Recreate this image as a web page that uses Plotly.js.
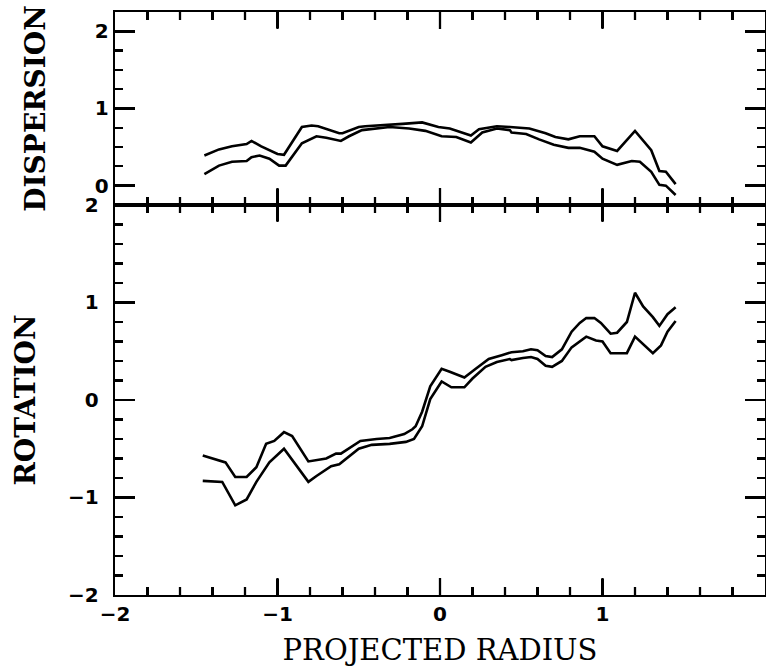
<!DOCTYPE html>
<html>
<head>
<meta charset="utf-8">
<script src="https://cdn.plot.ly/plotly-3.0.1.min.js"></script>
<style>html,body{margin:0;padding:0;background:#fff;}#chart{width:766px;height:672px;}</style>
</head>
<body>
<div id="chart"></div>
<script>
// Dispersion panel (top)
var dispUpperX = [-1.45,-1.36,-1.28,-1.19,-1.16,-1.10,-1.00,-0.96,-0.85,-0.79,-0.75,-0.62,-0.60,-0.50,-0.46,-0.36,-0.23,-0.11,-0.01,0.06,0.19,0.24,0.35,0.43,0.55,0.65,0.71,0.79,0.86,0.95,1.00,1.09,1.20,1.30,1.35,1.39,1.45];
var dispUpperY = [0.39,0.47,0.51,0.54,0.58,0.51,0.41,0.40,0.76,0.78,0.77,0.68,0.68,0.76,0.77,0.78,0.80,0.82,0.76,0.74,0.65,0.73,0.77,0.76,0.74,0.68,0.63,0.60,0.64,0.64,0.51,0.45,0.71,0.46,0.19,0.18,0.02];
var dispLowerX = [-1.45,-1.36,-1.28,-1.19,-1.16,-1.11,-1.05,-0.99,-0.95,-0.85,-0.76,-0.70,-0.61,-0.56,-0.48,-0.31,-0.19,-0.09,0.01,0.10,0.19,0.26,0.35,0.43,0.44,0.53,0.61,0.70,0.79,0.86,0.95,1.00,1.09,1.18,1.23,1.30,1.35,1.39,1.45];
var dispLowerY = [0.15,0.26,0.31,0.32,0.37,0.39,0.35,0.26,0.26,0.55,0.64,0.62,0.58,0.64,0.72,0.76,0.74,0.71,0.64,0.63,0.56,0.69,0.74,0.72,0.69,0.67,0.60,0.53,0.49,0.49,0.44,0.35,0.27,0.32,0.31,0.18,0.01,0.00,-0.12];

// Rotation panel (bottom)
var rotUpperX = [-1.46,-1.32,-1.26,-1.19,-1.13,-1.07,-1.02,-0.96,-0.91,-0.81,-0.70,-0.64,-0.61,-0.49,-0.39,-0.31,-0.22,-0.17,-0.15,-0.11,-0.06,0.01,0.06,0.15,0.22,0.30,0.38,0.44,0.51,0.56,0.60,0.65,0.69,0.75,0.81,0.86,0.90,0.95,0.99,1.05,1.09,1.15,1.20,1.25,1.31,1.35,1.40,1.45];
var rotUpperY = [-0.57,-0.64,-0.79,-0.79,-0.69,-0.45,-0.42,-0.33,-0.37,-0.63,-0.60,-0.55,-0.55,-0.42,-0.40,-0.39,-0.35,-0.30,-0.27,-0.12,0.14,0.32,0.29,0.23,0.32,0.42,0.46,0.49,0.50,0.52,0.51,0.45,0.44,0.52,0.70,0.79,0.84,0.84,0.79,0.68,0.69,0.80,1.10,0.96,0.85,0.76,0.88,0.95];
var rotLowerX = [-1.46,-1.34,-1.26,-1.19,-1.13,-1.05,-0.96,-0.81,-0.76,-0.67,-0.62,-0.50,-0.42,-0.31,-0.21,-0.16,-0.11,-0.06,0.01,0.07,0.15,0.20,0.28,0.35,0.43,0.44,0.51,0.56,0.60,0.65,0.69,0.75,0.81,0.86,0.90,0.96,1.00,1.05,1.15,1.20,1.25,1.31,1.36,1.40,1.45];
var rotLowerY = [-0.83,-0.84,-1.08,-1.02,-0.84,-0.64,-0.50,-0.84,-0.78,-0.68,-0.66,-0.50,-0.46,-0.45,-0.43,-0.40,-0.27,0.01,0.19,0.13,0.13,0.22,0.34,0.39,0.42,0.41,0.43,0.44,0.42,0.35,0.34,0.40,0.54,0.60,0.65,0.61,0.60,0.48,0.48,0.65,0.57,0.48,0.56,0.70,0.81];

// Tick values / labels
var xTickVals = [-2,-1,0,1,2];
var xTickText = ['\u22122','\u22121','0','1','2'];
var xMinorVals = [-1.8,-1.6,-1.4,-1.2,-0.8,-0.6,-0.4,-0.2,0.2,0.4,0.6,0.8,1.2,1.4,1.6,1.8];

var traces = [
  {x:rotUpperX, y:rotUpperY, mode:'lines', line:{color:'#000', width:2.6}},
  {x:rotLowerX, y:rotLowerY, mode:'lines', line:{color:'#000', width:2.6}},
  {x:dispUpperX, y:dispUpperY, xaxis:'x2', yaxis:'y2', mode:'lines', line:{color:'#000', width:2.6}},
  {x:dispLowerX, y:dispLowerY, xaxis:'x2', yaxis:'y2', mode:'lines', line:{color:'#000', width:2.6}}
];

var W = 766, H = 672, M = {l:115, r:1, t:12, b:77};
var SPLIT = 0.669;
var rotRange = [-2, 2];
var dispRange = [-0.25, 2.25];

// x-axis tick marks along the three horizontal axis lines, placed by the x scale
var plotH = H - M.t - M.b;
var rotPerPx = (rotRange[1] - rotRange[0]) / (plotH * SPLIT);
var dispPerPx = (dispRange[1] - dispRange[0]) / (plotH * (1 - SPLIT));
function tickShapes(){
  var shapes = [];
  function add(v, len){
    var st = {color:'#000', width:2.3};
    shapes.push({type:'line', xref:'x', yref:'y', x0:v, x1:v, y0:rotRange[0], y1:rotRange[0] + len*rotPerPx, line:st});
    shapes.push({type:'line', xref:'x', yref:'y', x0:v, x1:v, y0:rotRange[1], y1:rotRange[1] - len*rotPerPx, line:st});
    shapes.push({type:'line', xref:'x2', yref:'y2', x0:v, x1:v, y0:dispRange[0], y1:dispRange[0] + len*dispPerPx, line:st});
    shapes.push({type:'line', xref:'x2', yref:'y2', x0:v, x1:v, y0:dispRange[1], y1:dispRange[1] - len*dispPerPx, line:st});
  }
  xTickVals.forEach(function(v){ if (v > -2 && v < 2) add(v, 17); });
  xMinorVals.forEach(function(v){ add(v, 8); });
  return shapes;
}

var tickFont = {family:'DejaVu Sans', size:20, color:'#000', weight:'bold'};
var yTitleFont = {family:'DejaVu Serif', size:28, color:'#000', weight:'bold'};
var xTitleFont = {family:'DejaVu Serif', size:29, color:'#000'};

var layout = {
  width:W, height:H,
  margin:M,
  showlegend:false,
  shapes: tickShapes(),
  xaxis: {
    anchor:'y', domain:[0,1], range:[-2,2],
    showline:true, linecolor:'#000', linewidth:2.4, mirror:'allticks',
    ticks:'inside', ticklen:16, tickwidth:2.4, tickcolor:'#000',
    showgrid:false, zeroline:false, tickfont:tickFont,
    tickmode:'array', tickvals:xTickVals, ticktext:xTickText,
    minor:{dtick:0.2, ticks:'inside', ticklen:8, tickwidth:2.2, tickcolor:'#000'},
    title:{text:'PROJECTED RADIUS', font:xTitleFont, standoff:14}
  },
  yaxis: {
    anchor:'x', domain:[0,SPLIT], range:rotRange,
    showline:true, linecolor:'#000', linewidth:2.4, mirror:'allticks',
    ticks:'inside', ticklen:20, tickwidth:2.4, tickcolor:'#000',
    showgrid:false, zeroline:false, tickfont:tickFont, ticklabelstandoff:10,
    dtick:1, tick0:0,
    minor:{dtick:0.2, ticks:'inside', ticklen:8, tickwidth:2.2, tickcolor:'#000'},
    title:{text:'ROTATION', font:yTitleFont, standoff:24}
  },
  xaxis2: {
    anchor:'y2', domain:[0,1], range:[-2,2],
    showline:true, linecolor:'#000', linewidth:2.4, mirror:'allticks',
    ticks:'inside', ticklen:16, tickwidth:2.4, tickcolor:'#000',
    showgrid:false, zeroline:false, showticklabels:false, dtick:1, tick0:0,
    minor:{dtick:0.2, ticks:'inside', ticklen:8, tickwidth:2.2, tickcolor:'#000'}
  },
  yaxis2: {
    anchor:'x2', domain:[SPLIT,1], range:dispRange,
    showline:true, linecolor:'#000', linewidth:2.4, mirror:'allticks',
    ticks:'inside', ticklen:20, tickwidth:2.4, tickcolor:'#000',
    showgrid:false, zeroline:false, tickfont:tickFont, dtick:1, tick0:0,
    minor:{dtick:0.25, ticks:'inside', ticklen:8, tickwidth:2.2, tickcolor:'#000'},
    title:{text:'DISPERSION', font:yTitleFont, standoff:41}
  }
};

Plotly.newPlot('chart', traces, layout, {staticPlot:true});
</script>
</body>
</html>
